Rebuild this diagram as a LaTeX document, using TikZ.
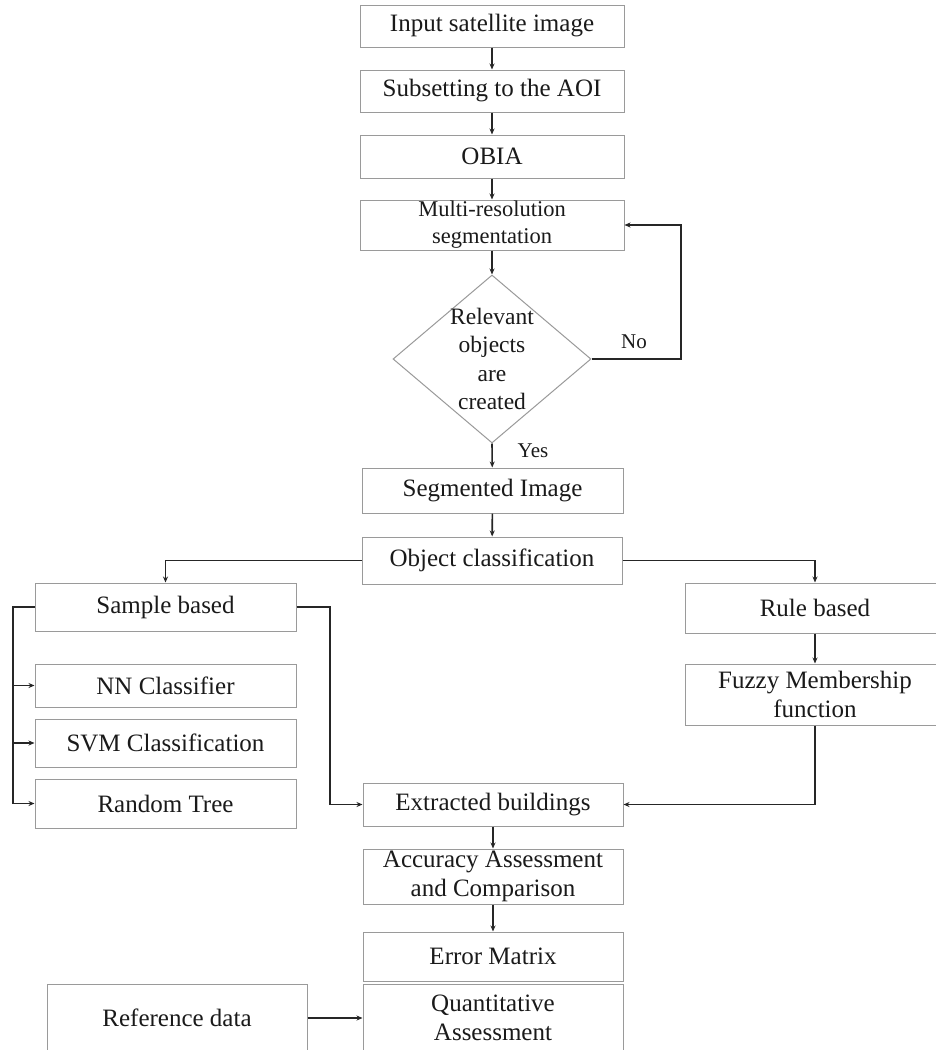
\documentclass[tikz,border=0pt]{standalone}
\usepackage{fontspec}
\setmainfont{Liberation Serif}
\usetikzlibrary{shapes.geometric,arrows.meta}
\definecolor{boxgray}{HTML}{9A9A9A}
\definecolor{lineblack}{HTML}{262626}
\definecolor{txt}{HTML}{1A1A1A}
\begin{document}
\begin{tikzpicture}[x=1pt,y=-1pt,
  box/.style={draw=boxgray, line width=1pt, rectangle, inner sep=0pt, align=center,
    font=\fontsize{25}{29}\selectfont, text=txt, minimum width=261pt},
  conn/.style={line width=1.6pt, draw=lineblack},
  arr/.style={conn, -{Stealth[length=6pt,width=5pt]}},
  lab/.style={font=\fontsize{21}{24}\selectfont, text=txt, inner sep=0pt}]
\useasboundingbox[fill=white] (0,0) rectangle (936,1050);

\node[box, minimum width=264pt, minimum height=42pt] (in) at (492,26) {Input satellite image};
\node[box, minimum width=264pt, minimum height=42pt] (sub) at (492,91) {Subsetting to the AOI};
\node[box, minimum width=264pt, minimum height=43pt] (obia) at (492,156.5) {OBIA};
\node[box, minimum width=264pt, minimum height=50pt, font=\fontsize{22.5}{27}\selectfont] (multi) at (492,225) {Multi-resolution\\segmentation};
\node[draw=boxgray, line width=1pt, diamond, minimum width=198pt, minimum height=168pt, inner sep=0pt] (dec) at (492,359) {};
\node[font=\fontsize{23.5}{28.5}\selectfont, align=center, text=txt, inner sep=0pt] (dect) at (dec.center) {Relevant\\objects\\are\\created};
\node[lab] (no) at (634,342) {No};
\node[lab] (yes) at (533,451) {Yes};
\node[box, minimum height=45pt] (seg) at (492.5,490.5) {Segmented Image};
\node[box, minimum width=260pt, minimum height=47pt] (obj) at (492,560.5) {Object classification};
\node[box, minimum height=48pt] (sample) at (165.5,607) {Sample based};
\node[box, minimum height=43pt] (nn) at (165.5,685.5) {NN Classifier};
\node[box, minimum height=48pt] (svm) at (165.5,743) {SVM Classification};
\node[box, minimum height=49pt] (rt) at (165.5,803.5) {Random Tree};
\node[box, minimum width=260pt, minimum height=50pt] (rule) at (815,608) {Rule based};
\node[box, minimum width=260pt, minimum height=61pt] (fuzzy) at (815,694.5) {Fuzzy Membership\\function};
\node[box, minimum width=260pt, minimum height=43pt] (ext) at (493,804.5) {Extracted buildings};
\node[box, minimum width=260pt, minimum height=55pt] (acc) at (493,876.5) {Accuracy Assessment\\and Comparison};
\node[box, minimum width=260pt, minimum height=49pt] (err) at (493,956.5) {Error Matrix};
\node[box, minimum width=260pt, minimum height=68pt] (quant) at (493,1018) {Quantitative\\Assessment};
\node[box, minimum width=260pt, minimum height=68pt] (ref) at (177,1018) {Reference data};

\coordinate (loop) at (681,359);
\coordinate (bus) at (13,607);
\coordinate (sj) at (330,607);

\draw[arr] (in) -- (sub);
\draw[arr] (sub) -- (obia);
\draw[arr] (obia) -- (multi);
\draw[arr] (multi) -- (dec.north);
\draw[arr] (dec.east) -- (loop) |- (multi.east);
\draw[arr] (dec.south) -- (seg);
\draw[arr] (seg) -- (obj);
\draw[arr] (obj.west) -| (sample.north);
\draw[arr] (obj.east) -| (rule.north);
\draw[arr] (sample.west) -- (bus) |- (nn.west);
\draw[arr] (bus) |- (svm.west);
\draw[arr] (bus) |- (rt.west);
\draw[arr] (sample.east) -- (sj) |- (ext.west);
\draw[arr] (rule) -- (fuzzy);
\draw[arr] (fuzzy.south) |- (ext.east);
\draw[arr] (ext) -- (acc);
\draw[arr] (acc) -- (err);
\draw[arr] (ref) -- (quant);
\end{tikzpicture}
\end{document}
